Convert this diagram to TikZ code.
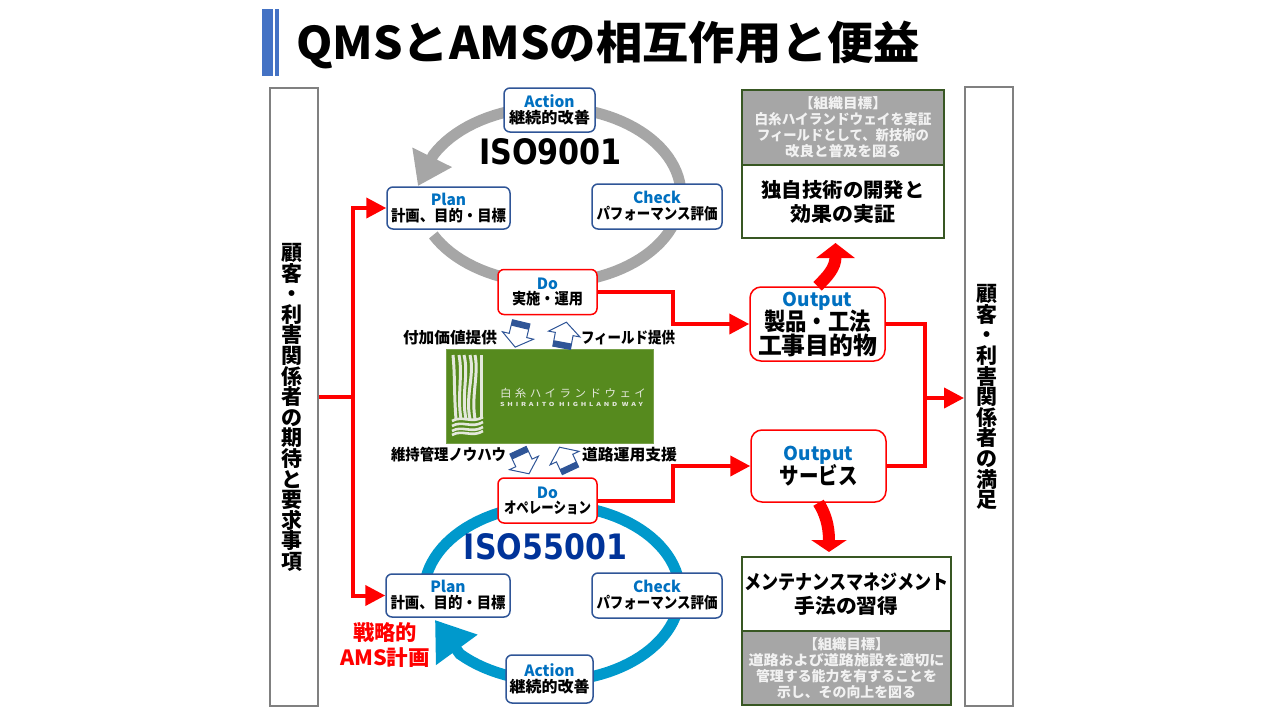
\documentclass[tikz,border=0pt]{standalone}
\usepackage{graphicx}
\usepackage{fontspec}
\setmainfont{Noto Sans CJK JP}
\newfontfamily\isofont{DejaVu Sans}
\usetikzlibrary{arrows.meta}
\definecolor{titleblue}{HTML}{4472C4}
\definecolor{pdcablue}{HTML}{0070C0}
\definecolor{boxblue}{HTML}{2F5597}
\definecolor{isoblue}{HTML}{003399}
\definecolor{ringblue}{HTML}{0099CC}
\definecolor{ringgray}{HTML}{A6A6A6}
\definecolor{goalgreen}{HTML}{385723}
\definecolor{logogreen}{HTML}{568A1E}
\definecolor{logowhite}{HTML}{E4E8DC}
\newcommand{\fitw}[2]{\resizebox{#1pt}{\height}{#2}}
\newcommand{\head}[1]{\textcolor{pdcablue}{#1}}
\newcommand{\fsz}[2]{\fontsize{#1}{#2}\selectfont\lineskiplimit=-20pt}
\newcommand{\blockarrow}[3]{%
	\begin{scope}[shift={(#1,#2)},rotate=#3]
		\draw[boxblue,fill=white,line width=1pt,line join=miter] (-9,-13) -- (9,-13) -- (9,1) -- (16,1) -- (0,13) -- (-16,1) -- (-9,1) -- cycle;
		\fill[boxblue] (-9,-13) rectangle (9,-7);
	\end{scope}}
\tikzstyle{pdcabox} = [draw=boxblue, fill=white, line width=1.5pt, rectangle, rounded corners=6pt,
inner sep=0pt, align=center, font=\bfseries\fsz{15.5}{16}]
\tikzstyle{dobox} = [pdcabox, draw=red]
\tikzstyle{outbox} = [draw=red, fill=white, line width=1.5pt, rectangle, rounded corners=11pt,
inner sep=0pt, align=center]
\tikzstyle{sidebox} = [draw=black!50, fill=white, line width=2pt, rectangle, inner sep=0pt]
\tikzstyle{tate} = [inner sep=0pt, align=center, font=\bfseries\fsz{21}{20.6}]
\tikzstyle{goalbox} = [draw=goalgreen, fill=white, line width=1.5pt, rectangle, inner sep=0pt,
align=center, font=\bfseries\fsz{20}{24}]
\tikzstyle{goalhead} = [goalbox, fill=ringgray, text=white!95!black, font=\bfseries\fsz{14}{16}]
\tikzstyle{sidelabel} = [inner sep=0pt, font=\bfseries\fsz{15.5}{16}]
\tikzstyle{redline} = [draw=red, line width=4pt, line join=miter]
\tikzstyle{redarrow} = [redline, -{Triangle[width=20pt,length=20pt]}]
\tikzstyle{bigarrow} = [draw=red, line width=12pt]
\tikzstyle{ring} = [line width=11pt]
\begin{document}
\begin{tikzpicture}[x=1pt,y=-1pt]
	\useasboundingbox (0,0) rectangle (1280,720);
	% title
	\fill[titleblue] (262,9) rectangle (273,76);
	\fill[titleblue] (275,9) rectangle (279,76);
	\node[inner sep=0pt, anchor=west, font=\bfseries\fsz{45}{48}] (title) at (296,45) {\fitw{624}{QMSとAMSの相互作用と便益}};
	% rings
	\coordinate (tipQ) at (418,186);
	\coordinate (tipA) at (435,620);
	\draw[ring, draw=ringgray, -{Triangle[width=42pt,length=32pt]}] plot[variable=\t, domain=153:-153, samples=90] ({550+131*cos(\t)},{195+88*sin(\t)}) -- (tipQ);
	\draw[ring, draw=ringblue, -{Triangle[width=49pt,length=37pt]}] plot[variable=\t, domain=-170:136, samples=90] ({552+128*cos(\t)},{593+88*sin(\t)}) -- (tipA);
	% side boxes
	\node[sidebox, minimum width=48pt, minimum height=618pt] (cust) at (294,397) {};
	\node[sidebox, minimum width=48pt, minimum height=619pt] (satis) at (989,396.5) {};
	\node[tate] (custtext) at (292,407.5) {顧\\客\\・\\利\\害\\関\\係\\者\\の\\期\\待\\と\\要\\求\\事\\項};
	\node[tate] (satistext) at (987,397) {顧\\客\\・\\利\\害\\関\\係\\者\\の\\満\\足};
	% iso 9001
	\node[pdcabox, minimum width=91pt, minimum height=44pt] (actQ) at (549.5,110) {\head{Action}\\\fitw{81}{継続的改善}};
	\node[pdcabox, minimum width=123pt, minimum height=42pt] (planQ) at (448.5,208) {\head{Plan}\\\fitw{115}{計画、目的・目標}};
	\node[pdcabox, minimum width=130pt, minimum height=45pt] (checkQ) at (657,206.5) {\head{Check}\\\fitw{121}{パフォーマンス評価}};
	\node[dobox, minimum width=99pt, minimum height=45pt] (doQ) at (547.5,292) {\head{Do}\\[-1pt]\fitw{71}{実施・運用}};
	\node[inner sep=0pt, font=\isofont\bfseries\fsz{35}{36}] (isoQ) at (550.5,152) {\fitw{143}{ISO9001}};
	% logo
	\node[fill=logogreen, draw=logogreen!80!white, inner sep=0pt, minimum width=207pt, minimum height=94pt] (logo) at (549.5,396) {};
	\foreach \xa/\xb/\d in {453/456/2, 459/461/4, 464/466/5, 470/470/5, 475/475/4, 481/481/0}
		\draw[logowhite, line width=3pt] (\xa,355) .. controls (\xa+\d,375) and (\xb-\d,395) .. (\xb,419);
	\foreach \yy in {421,426,431,435}
		\draw[logowhite, line width=2.6pt] (452,\yy) .. controls (462,\yy-6) and (472,\yy+3) .. (483,\yy-4);
	\node[inner sep=0pt, text=logowhite, font=\fsz{11}{12}] (logojp) at (573,393) {\fitw{146}{\addfontfeatures{LetterSpace=30}白糸ハイランドウェイ}};
	\node[inner sep=0pt, text=logowhite, font=\bfseries\fsz{5.5}{6}] (logoen) at (571.5,404.5) {\fitw{143}{\addfontfeatures{LetterSpace=40}SHIRAITO HIGHLAND WAY}};
	% exchange arrows
	\blockarrow{518.2}{334.5}{-13.5}
	\blockarrow{564}{335}{169.5}
	\blockarrow{523.5}{462}{25}
	\blockarrow{565}{459}{205}
	\node[sidelabel] (lblA) at (450,338) {\fitw{94}{付加価値提供}};
	\node[sidelabel] (lblB) at (628,338) {\fitw{94}{フィールド提供}};
	\node[sidelabel] (lblC) at (448.5,455) {\fitw{115}{維持管理ノウハウ}};
	\node[sidelabel] (lblD) at (629.5,455) {\fitw{95}{道路運用支援}};
	% iso 55001
	\node[dobox, minimum width=99pt, minimum height=45pt] (doA) at (547.5,500.5) {\head{Do}\\[-1pt]\fitw{87}{オペレーション}};
	\node[pdcabox, minimum width=124pt, minimum height=43pt] (planA) at (448,595.5) {\head{Plan}\\\fitw{115}{計画、目的・目標}};
	\node[pdcabox, minimum width=130pt, minimum height=45pt] (checkA) at (657,595.5) {\head{Check}\\\fitw{121}{パフォーマンス評価}};
	\node[pdcabox, minimum width=87pt, minimum height=48pt] (actA) at (549.5,679) {\head{Action}\\\fitw{80}{継続的改善}};
	\node[inner sep=0pt, text=isoblue, font=\isofont\bfseries\fsz{35}{36}] (isoA) at (545.5,547) {\fitw{163}{ISO55001}};
	\node[inner sep=0pt, text=red, align=center, font=\bfseries\fsz{21}{25}] (strat) at (385,645) {\fitw{64}{戦略的}\\\fitw{90}{AMS計画}};
	% outputs
	\node[outbox, minimum width=135pt, minimum height=74pt, font=\bfseries\fsz{24}{23}] (outQ) at (817.5,324) {\fsz{19}{22}\head{Output}\\[1pt]\fitw{107}{製品・工法}\\[1pt]\fitw{119}{工事目的物}};
	\node[outbox, minimum width=135pt, minimum height=72pt, font=\bfseries\fsz{23}{23}] (outS) at (818.5,466) {\fsz{19}{22}\head{Output}\\[1pt]\fitw{78}{サービス}};
	% goal boxes
	\node[goalhead, minimum width=202pt, minimum height=75pt] (goalQ) at (843,127.5) {\fitw{88}{【組織目標】}\\\fitw{177}{白糸ハイランドウェイを実証}\\\fitw{172}{フィールドとして、新技術の}\\\fitw{116}{改良と普及を図る}};
	\node[goalbox, minimum width=202pt, minimum height=73pt] (devQ) at (843,201.5) {\fitw{163}{独自技術の開発と}\\\fitw{105}{効果の実証}};
	\node[goalbox, minimum width=209pt, minimum height=74pt] (devA) at (846.5,594) {\fitw{204}{メンテナンスマネジメント}\\\fitw{104}{手法の習得}};
	\node[goalhead, minimum width=209pt, minimum height=74pt] (goalA) at (846.5,668) {\fitw{86}{【組織目標】}\\\fitw{196}{道路および道路施設を適切に}\\\fitw{181}{管理する能力を有することを}\\\fitw{139}{示し、その向上を図る}};
	% connectors
	\coordinate (busL) at (353,397);
	\coordinate (busM) at (673,396);
	\coordinate (busR) at (925,398);
	\coordinate (tipG) at (835.5,243);
	\coordinate (tipM) at (829,552);
	\draw[redline] (cust.east) -- (busL);
	\draw[redarrow] (busL) |- (planQ.west);
	\draw[redarrow] (busL) |- (planA.west);
	\draw[redarrow] (doQ.east) -- (doQ.east -| busM) -- (busM |- outQ.west) -- (outQ.west);
	\draw[redarrow] (doA.east) -- (doA.east -| busM) -- (busM |- outS.west) -- (outS.west);
	\draw[redline] (outQ.east) -| (busR);
	\draw[redline] (outS.east) -| (busR);
	\draw[redarrow] (busR) -- (satis.west |- busR);
	\draw[bigarrow, -{Triangle[width=38pt,length=15pt]}] (outQ.north) .. controls (827,277) and (835.5,268) .. (tipG);
	\draw[bigarrow, -{Triangle[width=35pt,length=12pt]}] (outS.south) .. controls (825,513) and (829,525) .. (tipM);
\end{tikzpicture}
\end{document}
